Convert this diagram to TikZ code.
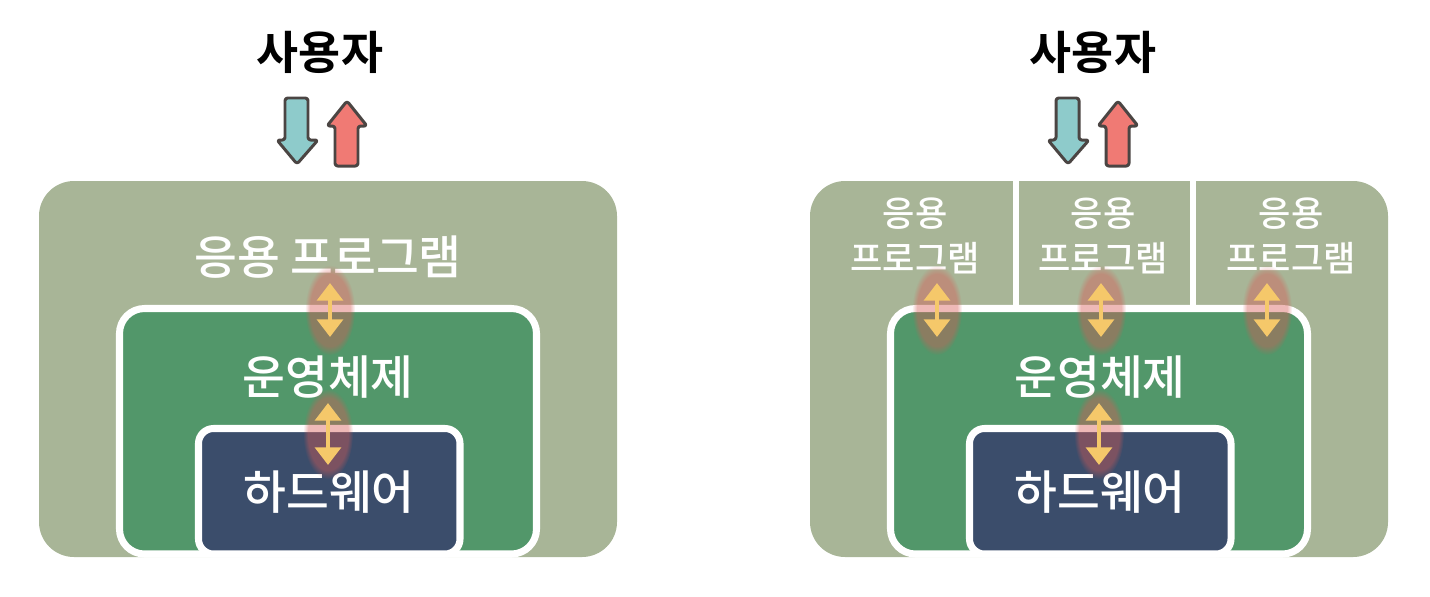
\documentclass[tikz,border=0pt]{standalone}
\usepackage{fontspec}
\setmainfont{Noto Sans CJK KR}[UprightFont={* Medium}, BoldFont={* Bold}]
\usetikzlibrary{arrows.meta, fadings, calc}

\definecolor{appbg}{HTML}{A8B597}
\definecolor{osbg}{HTML}{52976A}
\definecolor{hwbg}{HTML}{3B4D6B}
\definecolor{swapc}{HTML}{F5C86A}
\definecolor{downc}{HTML}{8ECBCB}
\definecolor{upc}{HTML}{F07A74}
\definecolor{inkc}{HTML}{4B4543}
\definecolor{glowc}{HTML}{D85A55}

\tikzset{
  box/.style={draw=white, line width=4pt},
  boxtext/.style={text=white, font=\fontsize{26.5}{30}\selectfont},
  apptext/.style={text=white, align=center, font=\fontsize{20}{25.5}\selectfont},
  usertext/.style={font=\fontsize{26}{30}\selectfont\bfseries},
  handarrow/.style={draw=inkc, line width=1.7pt, rounded corners=1.5pt, line join=round},
  swaparrow/.style={draw=swapc, line width=2.6pt, {Triangle[width=14.5pt,length=10pt]}-{Triangle[width=14.5pt,length=10pt]}},
  glow/.style={fill=glowc, opacity=0.42, path fading=circle with fuzzy edge 20 percent}
}

\begin{document}
\begin{tikzpicture}[x=0.02cm, y=-0.02cm]
    \useasboundingbox (0,0) rectangle (1430,596);

    % Left: one program
    \begin{scope}
        \fill[appbg, rounded corners=0.7cm] (39,181) rectangle (617,557);
        \draw[box, fill=osbg, rounded corners=0.5cm] (119.5,308.5) rectangle (536.5,554);
        \draw[box, fill=hwbg, rounded corners=0.3cm] (198.5,428.5) rectangle (460,554);
        \node[usertext] (userL) at (320,52) {사용자};
        \node[boxtext] (appL) at (328,257) {응용 프로그램};
        \node[boxtext] (osL) at (328,377) {운영체제};
        \node[boxtext] (hwL) at (329,492) {하드웨어};
        \filldraw[handarrow, fill=downc] (285,98) -- (308,98) -- (308,140) -- (318,140) -- (297,164) -- (277,140) -- (285,140) -- cycle;
        \filldraw[handarrow, fill=upc] (347,101) -- (367,126) -- (358,126) -- (358,166) -- (335,166) -- (335,126) -- (327,126) -- cycle;
        \foreach \i/\x/\t/\b in {1/330/283/337, 2/328/403/465} {
            \coordinate (Lt\i) at (\x,\t);
            \coordinate (Lb\i) at (\x,\b);
            \fill[glow] ($(Lt\i)!0.5!(Lb\i)$) ellipse [x radius=25, y radius=45];
            \draw[swaparrow] (Lt\i) -- (Lb\i);
        }
    \end{scope}

    % Right: several programs
    \begin{scope}[shift={(771,0)}]
        \fill[appbg, rounded corners=0.7cm] (39,181) rectangle (617,557);
        \draw[white, line width=3.4pt] (245,181) -- (245,308);
        \draw[white, line width=3.4pt] (422,181) -- (422,308);
        \draw[box, fill=osbg, rounded corners=0.5cm] (119.5,308.5) rectangle (536.5,554);
        \draw[box, fill=hwbg, rounded corners=0.3cm] (198.5,428.5) rectangle (460,554);
        \node[usertext] (userR) at (322,52) {사용자};
        \foreach \i/\x in {1/144, 2/332, 3/520}
            \node[apptext] (appR\i) at (\x,236) {응용\\프로그램};
        \node[boxtext] (osR) at (329,377) {운영체제};
        \node[boxtext] (hwR) at (329,492) {하드웨어};
        \filldraw[handarrow, fill=downc] (285,98) -- (308,98) -- (308,140) -- (318,140) -- (297,164) -- (277,140) -- (285,140) -- cycle;
        \filldraw[handarrow, fill=upc] (347,101) -- (367,126) -- (358,126) -- (358,166) -- (335,166) -- (335,126) -- (327,126) -- cycle;
        \foreach \i/\x/\t/\b in {1/166/283/337, 2/330/283/337, 3/496/283/337, 4/328/403/465} {
            \coordinate (Rt\i) at (\x,\t);
            \coordinate (Rb\i) at (\x,\b);
            \fill[glow] ($(Rt\i)!0.5!(Rb\i)$) ellipse [x radius=25, y radius=45];
            \draw[swaparrow] (Rt\i) -- (Rb\i);
        }
    \end{scope}
\end{tikzpicture}
\end{document}
